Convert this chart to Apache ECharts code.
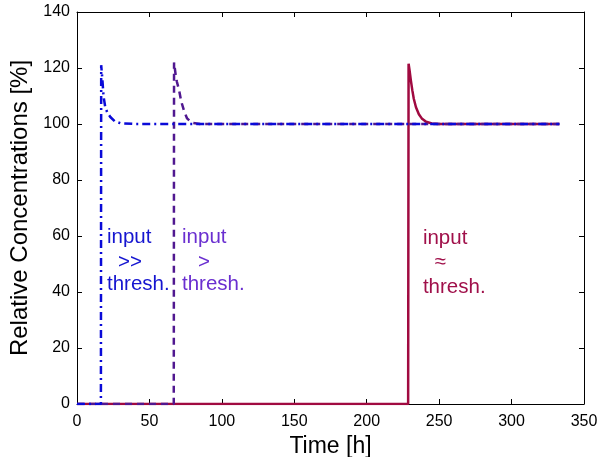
<!DOCTYPE html>
<html><head><meta charset="utf-8">
<script src="https://cdn.jsdelivr.net/npm/echarts@6/dist/echarts.min.js"></script>
<style>html,body{margin:0;padding:0;background:#fff}#c{width:608px;height:457px}</style>
</head><body><div id="c"></div>
<script>
// Blue (input >> thresh.), dash-dot
const blueT = [0, 16.5, 16.7, 17.5, 18.3, 19.5, 21, 23, 26, 30, 40, 100, 200, 333];
const blueV = [0, 0, 121, 116, 110, 106, 104, 102.5, 101, 100.3, 100, 100, 100, 100];
// Purple (input > thresh.), dashed
const purpleT = [0, 66.8, 67, 68, 69, 70.5, 72, 74, 76, 79, 85, 150, 250, 333];
const purpleV = [0, 0, 122, 118, 115, 112, 108, 104.5, 102, 100.5, 100, 100, 100, 100];
// Crimson (input ≈ thresh.), solid
const redT = [0, 228.6, 228.9, 229.5, 230.5, 231.5, 232.5, 234, 236, 238, 241, 245, 250, 333];
const redV = [0, 0, 121.5, 119.5, 115.5, 112, 109, 106, 103.5, 102, 100.8, 100.2, 100, 100];

const xTicks = [0, 350, 50];
const yTicks = [0, 140, 20];

const zip = (t, v) => t.map((x, i) => [x, v[i]]);
const ff = 'Liberation Sans, Arial, Helvetica, sans-serif';

function txt(coord, text, color, align) {
  return {coord: coord, symbolSize: 0, label: {show: true, position: 'inside', formatter: text, color: color, fontSize: 20.5, fontFamily: ff, align: align, verticalAlign: 'middle'}};
}

function axisCommon() {
  return {
    axisLine: {show: true, onZero: false, lineStyle: {color: '#000', width: 1}},
    axisTick: {show: true, inside: true, length: 5, lineStyle: {color: '#000'}},
    splitLine: {show: false}
  };
}

const chart = echarts.init(document.getElementById('c'));
chart.setOption({
  animation: false,
  backgroundColor: '#fff',
  grid: {left: 77, top: 12, right: 24, bottom: 53, containLabel: false, outerBoundsMode: 'none'},
  xAxis: [
    Object.assign({type: 'value', position: 'bottom', min: xTicks[0], max: xTicks[1], interval: xTicks[2],
      name: 'Time [h]', nameLocation: 'middle', nameGap: 28,
      nameTextStyle: {fontSize: 23, fontFamily: ff, color: '#000', verticalAlign: 'top'},
      axisLabel: {fontSize: 16, fontFamily: ff, color: '#000', margin: 10}}, axisCommon()),
    Object.assign({type: 'value', position: 'top', min: xTicks[0], max: xTicks[1], interval: xTicks[2],
      axisLabel: {show: false}}, axisCommon())
  ],
  yAxis: [
    Object.assign({type: 'value', position: 'left', min: yTicks[0], max: yTicks[1], interval: yTicks[2],
      name: 'Relative Concentrations [%]', nameLocation: 'middle', nameGap: 40,
      nameTextStyle: {fontSize: 24, fontFamily: ff, color: '#000'},
      axisLabel: {fontSize: 16, fontFamily: ff, color: '#000', margin: 7}}, axisCommon()),
    Object.assign({type: 'value', position: 'right', min: yTicks[0], max: yTicks[1], interval: yTicks[2],
      axisLabel: {show: false}}, axisCommon())
  ],
  series: [
    {type: 'line', data: zip(redT, redV), showSymbol: false, symbol: 'none',
      lineStyle: {color: '#a00a40', width: 2.5, type: 'solid'},
      markPoint: {silent: true, data: [
        txt([238.8, 59], 'input', '#a0104a', 'left'),
        txt([250.6, 50.5], '≈', '#a0104a', 'center'),
        txt([238.8, 41.5], 'thresh.', '#a0104a', 'left')
      ]}},
    {type: 'line', data: zip(purpleT, purpleV), showSymbol: false, symbol: 'none',
      lineStyle: {color: '#501890', width: 2.5, type: [7, 5]},
      markPoint: {silent: true, data: [
        txt([72.5, 59.5], 'input', '#6a2fd0', 'left'),
        txt([87.7, 50.7], '>', '#6a2fd0', 'center'),
        txt([72.5, 42.9], 'thresh.', '#6a2fd0', 'left')
      ]}},
    {type: 'line', data: zip(blueT, blueV), showSymbol: false, symbol: 'none',
      lineStyle: {color: '#0a0ad8', width: 2.5, type: [8, 4, 2, 4]},
      markPoint: {silent: true, data: [
        txt([20.7, 59.5], 'input', '#1515d0', 'left'),
        txt([36.6, 50.7], '>>', '#1515d0', 'center'),
        txt([20.7, 42.9], 'thresh.', '#1515d0', 'left')
      ]}}
  ]
});
</script></body></html>
